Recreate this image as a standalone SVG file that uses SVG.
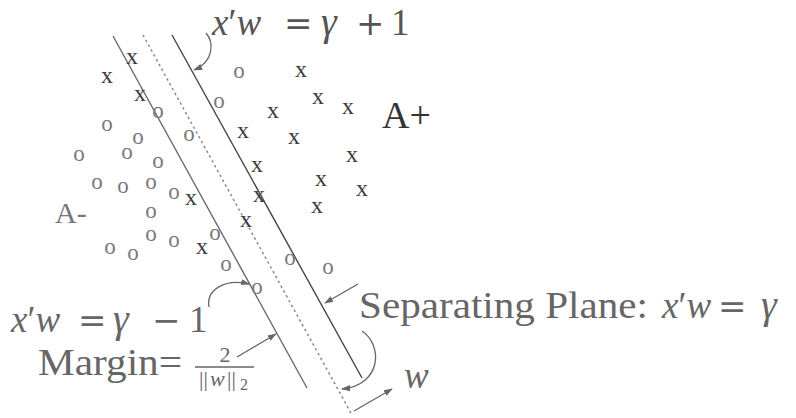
<svg xmlns="http://www.w3.org/2000/svg" width="796" height="418" viewBox="0 0 796 418">
<defs>
<style>
.bg{fill:#fff}
.pl{stroke:#555;stroke-width:1.4;fill:none}
.dash{stroke:#8a8a8a;stroke-width:1.5;stroke-dasharray:2.5 3;fill:none}
.ar{stroke:#666;stroke-width:1.3;fill:none}
.xm{font-family:"Liberation Serif",serif;font-size:24px;fill:#3c3c3c;text-anchor:middle}
.om{font-family:"Liberation Serif",serif;font-size:23px;fill:#7a7a7a;text-anchor:middle}
.lab{font-family:"Liberation Serif",serif;font-size:37px;fill:#666}
.it{font-style:italic}
.op{font-family:"DejaVu Serif",serif;font-size:34px}
.gm{font-style:italic;font-size:40px}
.dark{fill:#333}
</style>
<marker id="ah" viewBox="0 0 10 10" refX="9" refY="5" markerWidth="9" markerHeight="9" markerUnits="userSpaceOnUse" orient="auto">
<path d="M0,1.5 L10,5 L0,8.5 z" fill="#666"/>
</marker>
</defs>
<rect class="bg" x="0" y="0" width="796" height="418"/>

<g id="planes">
<line class="pl" x1="113" y1="36" x2="307" y2="388" style="stroke:#6a6a6a"/>
<line class="dash" x1="143" y1="35" x2="352" y2="415"/>
<line class="pl" x1="172" y1="35" x2="362" y2="378" style="stroke:#444"/>
</g>

<g id="class-plus-points">
<text class="xm" x="132" y="64">x</text>
<text class="xm" x="107" y="83">x</text>
<text class="xm" x="140" y="101">x</text>
<text class="xm" x="301" y="77">x</text>
<text class="xm" x="318" y="104">x</text>
<text class="xm" x="348" y="114">x</text>
<text class="xm" x="273" y="118">x</text>
<text class="xm" x="243" y="138">x</text>
<text class="xm" x="294" y="144">x</text>
<text class="xm" x="352" y="162">x</text>
<text class="xm" x="257" y="172">x</text>
<text class="xm" x="321" y="186">x</text>
<text class="xm" x="362" y="196">x</text>
<text class="xm" x="259" y="202">x</text>
<text class="xm" x="191" y="205">x</text>
<text class="xm" x="317" y="213">x</text>
<text class="xm" x="246" y="227">x</text>
<text class="xm" x="202" y="254">x</text>
</g>

<g id="class-minus-points">
<text class="om" x="158" y="118">o</text>
<text class="om" x="107" y="131">o</text>
<text class="om" x="239" y="78">o</text>
<text class="om" x="219" y="108">o</text>
<text class="om" x="189" y="141">o</text>
<text class="om" x="138" y="144">o</text>
<text class="om" x="79" y="161">o</text>
<text class="om" x="127" y="159">o</text>
<text class="om" x="158" y="168">o</text>
<text class="om" x="97" y="189">o</text>
<text class="om" x="123" y="193">o</text>
<text class="om" x="151" y="189">o</text>
<text class="om" x="174" y="199">o</text>
<text class="om" x="151" y="218">o</text>
<text class="om" x="151" y="241">o</text>
<text class="om" x="174" y="247">o</text>
<text class="om" x="110" y="254">o</text>
<text class="om" x="133" y="260">o</text>
<text class="om" x="215" y="240">o</text>
<text class="om" x="226" y="271">o</text>
<text class="om" x="290" y="265">o</text>
<text class="om" x="328" y="274">o</text>
<text class="om" x="257" y="294">o</text>
</g>

<g id="label-a-plus">
<text class="lab dark" x="382" y="128" style="font-size:38px">A+</text>
</g>
<g id="label-a-minus">
<text class="lab" x="55" y="223" style="font-size:30px;fill:#777">A-</text>
</g>

<g id="label-upper-plane">
<text class="lab" y="35" style="fill:#555"><tspan class="it" x="212">x</tspan>′<tspan class="it">w</tspan><tspan class="op" x="284">=</tspan><tspan class="gm" x="321">γ</tspan><tspan class="op" x="356">+</tspan><tspan x="391">1</tspan></text>
</g>

<g id="label-lower-plane">
<text class="lab" y="332"><tspan class="it" x="11">x</tspan>′<tspan class="it">w</tspan><tspan class="op" x="78">=</tspan><tspan class="gm" x="113">γ</tspan><tspan class="op" x="152">−</tspan><tspan x="189">1</tspan></text>
</g>

<g id="label-margin">
<text class="lab" x="38" y="375" textLength="144" lengthAdjust="spacingAndGlyphs">Margin=</text>
<text class="lab" x="225" y="362" style="font-size:22px;text-anchor:middle">2</text>
<line x1="195" y1="367" x2="254" y2="367" stroke="#666" stroke-width="1.5"/>
<text class="lab" y="386" style="font-size:22px"><tspan x="199">||</tspan><tspan class="it" x="210">w</tspan><tspan x="227">||</tspan><tspan x="240" dy="4" style="font-size:16px">2</tspan></text>
</g>

<g id="label-separating-plane">
<text class="lab" x="359" y="318" textLength="289" lengthAdjust="spacingAndGlyphs">Separating Plane:</text>
<text class="lab" y="318"><tspan class="it" x="662">x</tspan>′<tspan class="it">w</tspan><tspan class="op" x="718">=</tspan><tspan class="gm" x="761">γ</tspan></text>
</g>

<g id="label-w">
<text class="lab it" x="404" y="388">w</text>
</g>

<g id="connectors">
<path class="ar" d="M206,33 C214,42 214,62 194,70" marker-end="url(#ah)"/>
<path class="ar" d="M209,307 C206,290 225,278 249,284" marker-end="url(#ah)"/>
<path class="ar" d="M237,357 L276,334" marker-end="url(#ah)"/>
<path class="ar" d="M358,284 L325,303" marker-end="url(#ah)"/>
<path class="ar" d="M362,331 C383,345 382,385 342,389" marker-end="url(#ah)"/>
<path class="ar" d="M354,411 L392,389" marker-end="url(#ah)"/>
</g>
</svg>
